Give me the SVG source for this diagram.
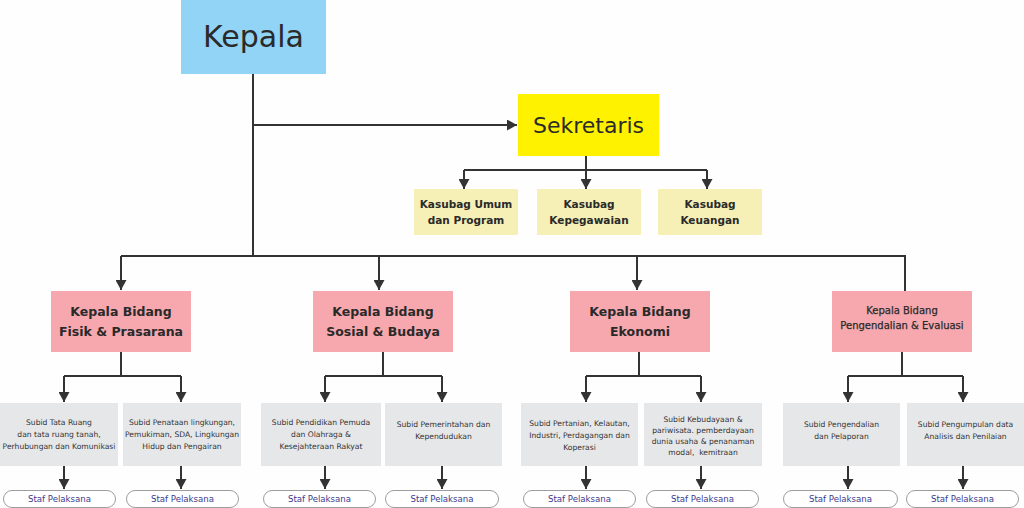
<svg xmlns="http://www.w3.org/2000/svg" width="1024" height="508" viewBox="0 0 1024 508">
<defs>
<marker id="arr" markerUnits="userSpaceOnUse" markerWidth="11" markerHeight="11" refX="10" refY="5.5" orient="auto" viewBox="0 0 10 11">
<path d="M0,0 L10,5.5 L0,11 z" fill="#333333"/>
</marker>
<style>
text{font-family:"DejaVu Sans","Noto Sans",sans-serif;text-anchor:middle;fill:#2a2a2a}
.ln{stroke:#333333;stroke-width:2;fill:none}
.ar{stroke:#333333;stroke-width:2;fill:none;marker-end:url(#arr)}
.kasubag rect{fill:#f6efb6}
.kasubag text{font-size:10.5px;font-weight:bold}
.bidang rect{fill:#f6a8ae}
.bidang text{font-size:12.5px;font-weight:bold}
.bidang text.sm{font-size:10px;font-weight:normal;stroke:#2a2a2a;stroke-width:0.25}
.subid rect{fill:#e6e7e8}
.subid text{font-size:7.6px;fill:#333}
.staf rect{fill:#ffffff;stroke:#9d9d9d;stroke-width:1}
.staf text{font-size:8.6px;fill:#3b3b8e}
</style>
</defs>
<rect width="1024" height="508" fill="#fefefe"/>

<g id="connectors">
<path class="ln" d="M253,74 V256"/>
<path class="ar" d="M253,125 H517"/>
<path class="ln" d="M586,156 V170 M464,170 H707"/>
<path class="ar" d="M464,170 V189"/>
<path class="ar" d="M586,170 V189"/>
<path class="ar" d="M707,170 V189"/>
<path class="ln" d="M121,256 H905 V291"/>
<path class="ar" d="M121,256 V290"/>
<path class="ar" d="M379,256 V290"/>
<path class="ar" d="M637,256 V290"/>
<path class="ln" d="M121,352 V376 M64,376 H181"/>
<path class="ln" d="M383,352 V376 M325,376 H442"/>
<path class="ln" d="M639,352 V376 M586,376 H701"/>
<path class="ln" d="M902,352 V376 M848,376 H963"/>
<path class="ar" d="M64,376 V402"/>
<path class="ar" d="M181,376 V402"/>
<path class="ar" d="M325,376 V402"/>
<path class="ar" d="M442,376 V402"/>
<path class="ar" d="M586,376 V402"/>
<path class="ar" d="M701,376 V402"/>
<path class="ar" d="M848,376 V402"/>
<path class="ar" d="M963,376 V402"/>
<path class="ar" d="M64,466 V489"/>
<path class="ar" d="M181,466 V489"/>
<path class="ar" d="M325,466 V489"/>
<path class="ar" d="M442,466 V489"/>
<path class="ar" d="M586,466 V489"/>
<path class="ar" d="M701,466 V489"/>
<path class="ar" d="M848,466 V489"/>
<path class="ar" d="M963,466 V489"/>
</g>

<g id="kepala">
<rect x="181" y="0" width="145" height="74" fill="#92d4f5"/>
<text x="253.5" y="47" style="font-size:30px">Kepala</text>
</g>

<g id="sekretaris">
<rect x="518" y="94" width="141" height="62" fill="#fff200"/>
<text x="588.5" y="133" style="font-size:22px">Sekretaris</text>
</g>

<g id="kasubag-umum" class="kasubag">
<rect x="414" y="189" width="104" height="46"/>
<text x="466" y="208">Kasubag Umum</text>
<text x="466" y="224">dan Program</text>
</g>
<g id="kasubag-kepegawaian" class="kasubag">
<rect x="537" y="189" width="104" height="46"/>
<text x="589" y="208">Kasubag</text>
<text x="589" y="224">Kepegawaian</text>
</g>
<g id="kasubag-keuangan" class="kasubag">
<rect x="658" y="189" width="104" height="46"/>
<text x="710" y="208">Kasubag</text>
<text x="710" y="224">Keuangan</text>
</g>

<g id="bidang-fisik" class="bidang">
<rect x="51" y="291" width="140" height="61"/>
<text x="121" y="316">Kepala Bidang</text>
<text x="121" y="336">Fisik &amp; Prasarana</text>
</g>
<g id="bidang-sosial" class="bidang">
<rect x="313" y="291" width="140" height="61"/>
<text x="383" y="316">Kepala Bidang</text>
<text x="383" y="336">Sosial &amp; Budaya</text>
</g>
<g id="bidang-ekonomi" class="bidang">
<rect x="570" y="291" width="140" height="61"/>
<text x="640" y="316">Kepala Bidang</text>
<text x="640" y="336">Ekonomi</text>
</g>
<g id="bidang-pengendalian" class="bidang">
<rect x="832" y="291" width="140" height="61"/>
<text class="sm" x="902" y="314">Kepala Bidang</text>
<text class="sm" x="902" y="329">Pengendalian &amp; Evaluasi</text>
</g>

<g id="subid-tata-ruang" class="subid">
<rect x="0" y="403" width="118" height="63"/>
<text x="59" y="425">Subid Tata Ruang</text>
<text x="59" y="437">dan tata ruang tanah,</text>
<text x="59" y="449">Perhubungan dan Komunikasi</text>
</g>
<g id="subid-penataan" class="subid">
<rect x="123" y="403" width="118" height="63"/>
<text x="182" y="425">Subid Penataan lingkungan,</text>
<text x="182" y="437">Pemukiman, SDA, Lingkungan</text>
<text x="182" y="449">Hidup dan Pengairan</text>
</g>
<g id="subid-pendidikan" class="subid">
<rect x="261" y="403" width="120" height="63"/>
<text x="321" y="425">Subid Pendidikan Pemuda</text>
<text x="321" y="437">dan Olahraga &amp;</text>
<text x="321" y="449">Kesejahteraan Rakyat</text>
</g>
<g id="subid-pemerintahan" class="subid">
<rect x="385" y="403" width="117" height="63"/>
<text x="443.5" y="427">Subid Pemerintahan dan</text>
<text x="443.5" y="439">Kependudukan</text>
</g>
<g id="subid-pertanian" class="subid">
<rect x="521" y="403" width="117" height="63"/>
<text x="579.5" y="426">Subid Pertanian, Kelautan,</text>
<text x="579.5" y="438">Industri, Perdagangan dan</text>
<text x="579.5" y="450">Koperasi</text>
</g>
<g id="subid-kebudayaan" class="subid">
<rect x="644" y="403" width="118" height="63"/>
<text x="703" y="422">Subid Kebudayaan &amp;</text>
<text x="703" y="433">pariwisata. pemberdayaan</text>
<text x="703" y="444">dunia usaha &amp; penanaman</text>
<text x="703" y="455">modal,&#160; kemitraan</text>
</g>
<g id="subid-pengendalian" class="subid">
<rect x="783" y="403" width="117" height="63"/>
<text x="841.5" y="427">Subid Pengendalian</text>
<text x="841.5" y="439">dan Pelaporan</text>
</g>
<g id="subid-pengumpulan" class="subid">
<rect x="907" y="403" width="117" height="63"/>
<text x="965.5" y="427">Subid Pengumpulan data</text>
<text x="965.5" y="439">Analisis dan Penilaian</text>
</g>

<g id="staf-1" class="staf"><rect x="3.5" y="490.5" width="112" height="17" rx="8.5"/><text x="59.5" y="502">Staf Pelaksana</text></g>
<g id="staf-2" class="staf"><rect x="126.5" y="490.5" width="112" height="17" rx="8.5"/><text x="182.5" y="502">Staf Pelaksana</text></g>
<g id="staf-3" class="staf"><rect x="263.5" y="490.5" width="112" height="17" rx="8.5"/><text x="319.5" y="502">Staf Pelaksana</text></g>
<g id="staf-4" class="staf"><rect x="385.5" y="490.5" width="113" height="17" rx="8.5"/><text x="442" y="502">Staf Pelaksana</text></g>
<g id="staf-5" class="staf"><rect x="523.5" y="490.5" width="112" height="17" rx="8.5"/><text x="579.5" y="502">Staf Pelaksana</text></g>
<g id="staf-6" class="staf"><rect x="646.5" y="490.5" width="112" height="17" rx="8.5"/><text x="702.5" y="502">Staf Pelaksana</text></g>
<g id="staf-7" class="staf"><rect x="783.5" y="490.5" width="114" height="17" rx="8.5"/><text x="840.5" y="502">Staf Pelaksana</text></g>
<g id="staf-8" class="staf"><rect x="906.5" y="490.5" width="112" height="17" rx="8.5"/><text x="962.5" y="502">Staf Pelaksana</text></g>
</svg>
